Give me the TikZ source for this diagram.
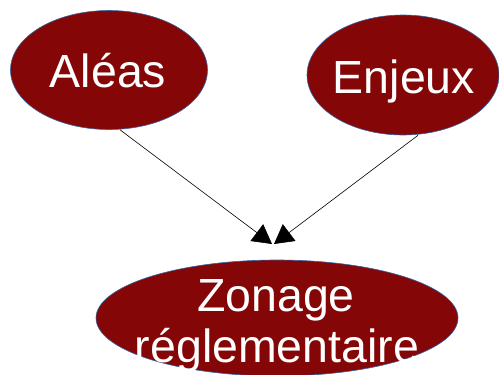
\documentclass[tikz,border=0pt]{standalone}
\usepackage{fontspec}
\setmainfont{Liberation Sans}
\usetikzlibrary{arrows.meta,shapes.geometric}
\definecolor{blobred}{HTML}{850606}
\definecolor{blobedge}{HTML}{3465A4}
\tikzset{
  blob/.style={ellipse, draw=blobedge, line width=0.6pt, fill=blobred, inner sep=0pt},
  label/.style={text=white, font=\fontsize{46.5}{51}\selectfont, inner sep=0pt, anchor=base},
  link/.style={draw=black, line width=0.6pt, -{Triangle[length=19pt,width=21pt]}}
}
\begin{document}
\begin{tikzpicture}[x=1pt,y=-1pt]
  \useasboundingbox (0,0) rectangle (499,375);
  % three ellipses
  \node[blob, minimum width=197pt, minimum height=119pt] (alea) at (109,70) {};
  \node[blob, minimum width=192pt, minimum height=120pt] (enjeu) at (403,75) {};
  \node[blob, minimum width=362pt, minimum height=116pt] (zonage) at (277,318) {};
  % labels
  \node[label] (talea) at (108,87) {Aléas};
  \node[label] (tenjeu) at (404,93) {Enjeux};
  \node[label] (tzone1) at (276,311) {Zonage};
  \node[label] (tzone2) at (277,362) {réglementaire};
  % arrow ends
  \coordinate (tipa) at (272,244);
  \coordinate (tipb) at (274,244);
  \draw[link] ([xshift=11pt]alea.south) -- (tipa);
  \draw[link] ([xshift=15pt]enjeu.south) -- (tipb);
\end{tikzpicture}
\end{document}
